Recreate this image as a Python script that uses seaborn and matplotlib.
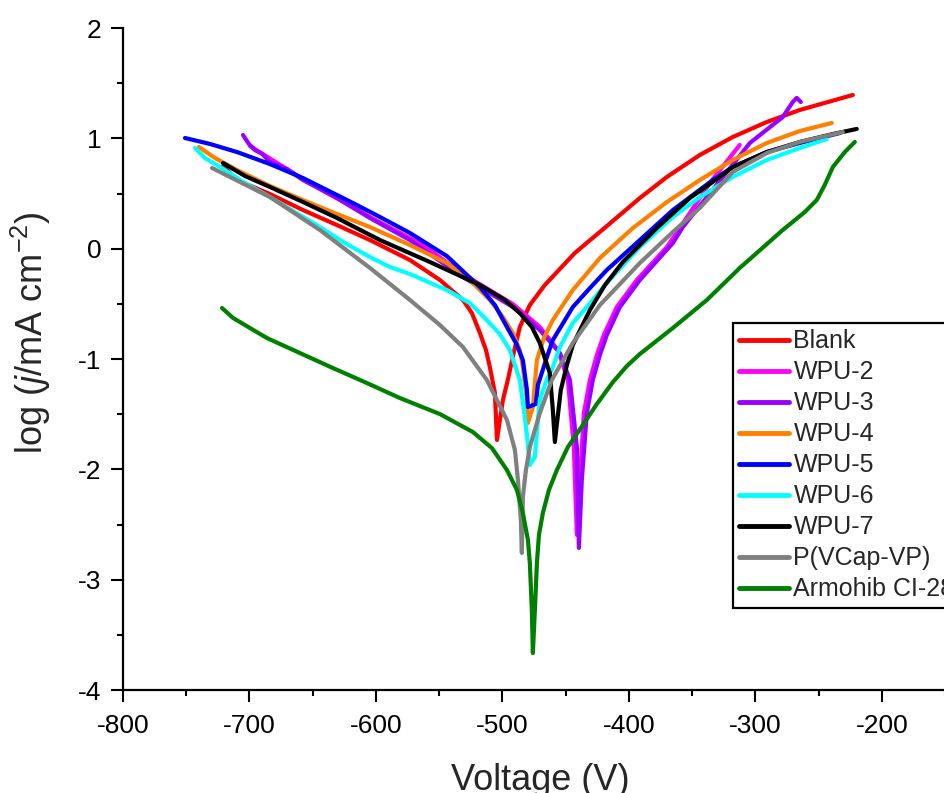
import numpy as np
import pandas as pd
import matplotlib
matplotlib.use("Agg")
import matplotlib.pyplot as plt
from matplotlib.ticker import MultipleLocator
import seaborn as sns

# ---------------- data ----------------
series_names = ["Blank", "WPU-2", "WPU-3", "WPU-4", "WPU-5", "WPU-6", "WPU-7",
                "P(VCap-VP)", "Armohib CI-28"]
series_colors = ["#FF0000", "#FF00FF", "#9900FF", "#FF8000", "#0000FF", "#00FFFF",
                 "#000000", "#808080", "#008000"]

blank_v = [-720.9, -709.9, -683.8, -657.7, -630.8, -604.7, -573.1, -549.4, -531.2, -524.1,
           -517.8, -513.0, -509.9, -505.9, -504.3, -499.6, -495.7, -490.9, -486.2, -478.3,
           -466.4, -442.7, -417.4, -391.3, -369.9, -343.9, -317.8, -290.9, -264.8, -222.9]
blank_logj = [0.749, 0.622, 0.495, 0.350, 0.214, 0.078, -0.103, -0.284, -0.465, -0.583,
              -0.764, -0.918, -1.073, -1.308, -1.734, -1.372, -1.190, -0.937, -0.710, -0.511,
              -0.329, -0.039, 0.205, 0.459, 0.650, 0.849, 1.012, 1.148, 1.257, 1.393]

wpu2_v = [-699.6, -657.7, -604.7, -562.8, -531.2, -491.7, -470.4, -456.1, -448.2, -443.5,
          -441.1, -438.7, -435.6, -430.8, -425.3, -419.8, -409.5, -393.7, -369.9, -351.8,
          -336.0, -312.3]
wpu2_logj = [0.930, 0.631, 0.287, 0.033, -0.230, -0.502, -0.710, -0.918, -1.190, -1.798,
             -2.595, -2.097, -1.490, -1.190, -0.964, -0.783, -0.529, -0.284, 0.015, 0.323,
             0.595, 0.940]

wpu3_v = [-705.1, -700.5, -695.7, -690.0, -683.8, -670.0, -657.7, -630.8, -604.7, -573.1,
          -531.2, -491.7, -470.4, -454.5, -446.6, -441.1, -439.5, -437.2, -433.2, -428.5,
          -422.9, -417.4, -407.1, -391.3, -365.2, -357.3, -328.1, -304.3, -278.3, -270.4,
          -267.2, -264.0]
wpu3_logj = [1.030, 0.950, 0.894, 0.860, 0.785, 0.720, 0.622, 0.459, 0.278, 0.078,
             -0.257, -0.529, -0.737, -0.946, -1.190, -1.798, -2.713, -2.097, -1.490, -1.190,
             -0.964, -0.783, -0.529, -0.284, 0.051, 0.196, 0.613, 0.958, 1.193, 1.329,
             1.366, 1.329]

wpu4_v = [-739.9, -727.3, -709.9, -683.8, -657.7, -630.8, -604.7, -573.1, -543.9, -525.7,
          -509.9, -499.6, -491.7, -486.2, -483.8, -480.6, -479.8, -475.9, -472.7, -467.2,
          -460.1, -444.3, -422.9, -396.8, -369.9, -343.9, -317.8, -290.9, -264.8, -239.5]
wpu4_logj = [0.921, 0.822, 0.713, 0.568, 0.441, 0.314, 0.196, 0.033, -0.130, -0.284,
             -0.465, -0.619, -0.764, -0.918, -1.073, -1.372, -1.580, -1.435, -1.009, -0.810,
             -0.647, -0.375, -0.085, 0.187, 0.423, 0.622, 0.804, 0.958, 1.066, 1.139]

wpu5_v = [-751.0, -731.2, -709.9, -683.8, -657.7, -618.2, -596.8, -573.1, -543.9, -517.8,
          -505.9, -496.4, -489.3, -483.8, -480.6, -479.8, -473.5, -471.9, -464.8, -460.1,
          -444.3, -430.8, -417.4, -391.3, -365.2, -333.6, -317.8, -290.9, -264.8, -233.2]
wpu5_logj = [1.003, 0.949, 0.876, 0.767, 0.640, 0.414, 0.287, 0.142, -0.067, -0.348,
             -0.511, -0.710, -0.855, -1.009, -1.281, -1.435, -1.408, -1.236, -0.982, -0.828,
             -0.529, -0.357, -0.193, 0.078, 0.350, 0.622, 0.740, 0.876, 0.958, 1.048]

wpu6_v = [-743.1, -735.2, -723.3, -703.6, -683.8, -644.3, -624.5, -604.7, -588.9, -573.1,
          -543.9, -525.7, -512.3, -502.0, -494.1, -486.2, -483.0, -480.6, -478.3, -474.3,
          -471.9, -470.4, -465.6, -460.1, -454.5, -444.3, -433.2, -417.4, -391.3, -365.2,
          -343.9, -317.8, -290.9, -264.8, -243.5]
wpu6_logj = [0.912, 0.822, 0.740, 0.595, 0.468, 0.196, 0.051, -0.076, -0.166, -0.230,
             -0.375, -0.493, -0.647, -0.774, -0.918, -1.190, -1.462, -1.689, -1.961, -1.888,
             -1.553, -1.372, -1.209, -1.073, -0.891, -0.674, -0.529, -0.311, 0.015, 0.287,
             0.468, 0.650, 0.804, 0.912, 0.994]

wpu7_v = [-720.9, -703.6, -683.8, -657.7, -630.8, -596.8, -557.3, -517.8, -498.0, -486.2,
          -476.7, -470.4, -462.5, -460.1, -458.5, -456.1, -453.8, -449.0, -444.3, -430.8,
          -418.9, -404.7, -377.9, -351.8, -330.4, -317.8, -290.9, -264.8, -238.7, -219.8]
wpu7_logj = [0.776, 0.659, 0.559, 0.423, 0.278, 0.078, -0.121, -0.329, -0.465, -0.583,
             -0.710, -0.855, -1.127, -1.462, -1.752, -1.508, -1.281, -1.055, -0.873, -0.556,
             -0.329, -0.121, 0.187, 0.459, 0.631, 0.740, 0.876, 0.967, 1.039, 1.085]

pvcap_v = [-729.6, -707.5, -683.8, -644.3, -604.7, -573.1, -549.4, -531.2, -512.3, -504.3,
           -496.4, -490.1, -487.7, -485.4, -484.6, -483.8, -481.4, -478.3, -470.4, -460.9,
           -444.3, -422.9, -391.3, -365.2, -343.9, -317.8, -290.9, -264.8, -230.8]
pvcap_logj = [0.731, 0.604, 0.468, 0.169, -0.175, -0.465, -0.692, -0.891, -1.190, -1.372,
              -1.553, -1.825, -2.097, -2.459, -2.758, -2.251, -2.006, -1.798, -1.490, -1.190,
              -0.855, -0.511, -0.130, 0.151, 0.369, 0.695, 0.867, 0.967, 1.057]

armohib_v = [-721.7, -713.0, -699.6, -686.2, -660.1, -634.0, -607.1, -581.0, -549.4, -523.3,
             -508.3, -496.4, -488.5, -483.8, -479.8, -478.3, -476.7, -475.9, -474.3, -472.7,
             -471.1, -468.0, -463.2, -456.9, -448.2, -436.4, -425.3, -412.6, -401.6, -391.3,
             -365.2, -338.3, -312.3, -278.3, -260.9, -251.4, -245.1, -238.7, -229.2, -221.3]
armohib_logj = [-0.538, -0.628, -0.719, -0.810, -0.946, -1.082, -1.218, -1.354, -1.499, -1.662,
                -1.807, -2.006, -2.187, -2.396, -2.641, -2.849, -3.275, -3.665, -3.275, -2.849,
                -2.595, -2.396, -2.187, -2.006, -1.798, -1.598, -1.408, -1.209, -1.064, -0.955,
                -0.719, -0.465, -0.175, 0.169, 0.332, 0.441, 0.577, 0.740, 0.876, 0.967]

x_ticks = [-800, -700, -600, -500, -400, -300, -200]
y_ticks = [-4, -3, -2, -1, 0, 1, 2]

all_v = [blank_v, wpu2_v, wpu3_v, wpu4_v, wpu5_v, wpu6_v, wpu7_v, pvcap_v, armohib_v]
all_j = [blank_logj, wpu2_logj, wpu3_logj, wpu4_logj, wpu5_logj, wpu6_logj, wpu7_logj,
         pvcap_logj, armohib_logj]

frames = []
for name, v, j in zip(series_names, all_v, all_j):
    frames.append(pd.DataFrame({"Voltage": v, "logj": j, "Sample": name}))
df = pd.concat(frames, ignore_index=True)

# ---------------- style ----------------
sns.set_theme(style="ticks")
plt.rcParams["font.family"] = ["Liberation Sans", "DejaVu Sans"]
plt.rcParams["axes.unicode_minus"] = False
plt.rcParams["mathtext.fontset"] = "custom"
plt.rcParams["mathtext.rm"] = "Liberation Sans"
plt.rcParams["mathtext.it"] = "Liberation Sans:italic"
plt.rcParams["mathtext.default"] = "regular"

fig = plt.figure(figsize=(9.45, 7.93), dpi=100)
ax = fig.add_axes([123 / 945, 103 / 793, 822 / 945, 662 / 793])

palette = dict(zip(series_names, series_colors))
for name in series_names:
    sub = df[df["Sample"] == name]
    sns.lineplot(data=sub, x="Voltage", y="logj", color=palette[name], sort=False,
                 estimator=None, lw=3.0, ax=ax, label=name, solid_capstyle="round",
                 solid_joinstyle="round")

ax.set_xlim(-800, -150)
ax.set_ylim(-4, 2)
ax.set_xticks(x_ticks)
ax.set_yticks(y_ticks)
ax.xaxis.set_minor_locator(MultipleLocator(50))
ax.yaxis.set_minor_locator(MultipleLocator(0.5))
ax.tick_params(axis="both", which="major", direction="out", length=8.5, width=1.5,
               labelsize=19, color="black", labelcolor="black")
ax.tick_params(axis="x", which="major", pad=9)
ax.tick_params(axis="y", which="major", pad=7)
ax.tick_params(axis="both", which="minor", direction="out", length=4.5, width=1.5,
               color="black")
for side in ["top", "right"]:
    ax.spines[side].set_visible(False)
for side in ["left", "bottom"]:
    ax.spines[side].set_linewidth(1.6)
    ax.spines[side].set_color("black")

ax.set_xlabel("Voltage (V)", fontsize=26)
ax.set_ylabel(r"log ($\mathit{j}$/mA cm$^{-2}$)", fontsize=26)
ax.xaxis.set_label_coords(0.508, -0.11)
ax.yaxis.set_label_coords(-0.085, 0.54)

leg = ax.legend(loc="upper left", bbox_to_anchor=(733 / 945, 470 / 793),
                bbox_transform=fig.transFigure, fontsize=18, frameon=True,
                fancybox=False, edgecolor="black", framealpha=1,
                handlelength=2.0, handletextpad=0.17, labelspacing=0.28,
                borderpad=0.25, borderaxespad=0)
leg.get_frame().set_linewidth(1.6)
for line in leg.get_lines():
    line.set_linewidth(3.5)

fig.savefig("out.png", dpi=100)
